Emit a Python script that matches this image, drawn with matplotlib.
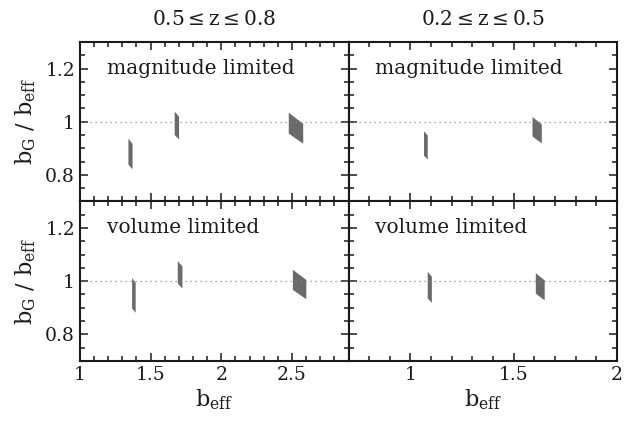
import numpy as np
import matplotlib
matplotlib.use('Agg')
import matplotlib.pyplot as plt
from matplotlib.ticker import MultipleLocator, FormatStrFormatter

plt.rcParams['font.family'] = 'DejaVu Serif'
plt.rcParams['mathtext.fontset'] = 'dejavuserif'

# each region: b_eff range (x) and b_G range; drawn as b_G / b_eff vs b_eff
col_titles = [r'$0.5 \leq \mathrm{z} \leq 0.8$', r'$0.2 \leq \mathrm{z} \leq 0.5$']
row_labels = ['magnitude limited', 'volume limited']

# 0.5 <= z <= 0.8, magnitude limited
mag_hi_beff_lo = [1.340, 1.667, 2.474]
mag_hi_beff_hi = [1.369, 1.698, 2.576]
mag_hi_bg_lo = [1.126, 1.587, 2.368]
mag_hi_bg_hi = [1.257, 1.733, 2.562]
# 0.5 <= z <= 0.8, volume limited
vol_hi_beff_lo = [1.366, 1.689, 2.503]
vol_hi_beff_hi = [1.391, 1.722, 2.598]
vol_hi_bg_lo = [1.228, 1.677, 2.426]
vol_hi_bg_hi = [1.385, 1.820, 2.615]
# 0.2 <= z <= 0.5, magnitude limited
mag_lo_beff_lo = [1.063, 1.588]
mag_lo_beff_hi = [1.081, 1.633]
mag_lo_bg_lo = [0.929, 1.503]
mag_lo_bg_hi = [1.027, 1.619]
# 0.2 <= z <= 0.5, volume limited
vol_lo_beff_lo = [1.081, 1.604]
vol_lo_beff_hi = [1.101, 1.647]
vol_lo_bg_lo = [1.013, 1.531]
vol_lo_bg_hi = [1.121, 1.655]

panels = [
    [(mag_hi_beff_lo, mag_hi_beff_hi, mag_hi_bg_lo, mag_hi_bg_hi),
     (mag_lo_beff_lo, mag_lo_beff_hi, mag_lo_bg_lo, mag_lo_bg_hi)],
    [(vol_hi_beff_lo, vol_hi_beff_hi, vol_hi_bg_lo, vol_hi_bg_hi),
     (vol_lo_beff_lo, vol_lo_beff_hi, vol_lo_bg_lo, vol_lo_bg_hi)],
]
xlims = [(1.0, 2.9), (0.7, 2.0)]

fig, axes = plt.subplots(2, 2, figsize=(6.24, 4.24), dpi=100)
fig.subplots_adjust(left=0.128, right=0.989, bottom=0.149, top=0.901,
                    wspace=0, hspace=0)

for r in range(2):
    for c in range(2):
        ax = axes[r][c]
        x0s, x1s, g0s, g1s = panels[r][c]
        for x0, x1, g0, g1 in zip(x0s, x1s, g0s, g1s):
            xx = np.linspace(x0, x1, 30)
            ax.fill_between(xx, g0 / xx, g1 / xx, color='#6a6a6a', lw=0)
        ax.axhline(1.0, color='#888888', ls=(0, (1, 3)), lw=0.9)
        ax.set_xlim(*xlims[c])
        ax.set_ylim(0.7, 1.3)
        ax.xaxis.set_major_locator(MultipleLocator(0.5))
        ax.xaxis.set_minor_locator(MultipleLocator(0.1))
        ax.yaxis.set_major_locator(MultipleLocator(0.2))
        ax.yaxis.set_minor_locator(MultipleLocator(0.05))
        ax.xaxis.set_major_formatter(FormatStrFormatter('%g'))
        ax.yaxis.set_major_formatter(FormatStrFormatter('%g'))
        ax.tick_params(which='both', direction='in', top=True, right=True,
                       labelsize=13.5, width=1.1, color='#1a1a1a',
                       labelcolor='#1a1a1a')
        ax.tick_params(which='major', length=6)
        ax.tick_params(which='minor', length=3.5)
        for sp in ax.spines.values():
            sp.set_linewidth(1.5)
            sp.set_color('#1a1a1a')
        ax.text(0.10, 0.835, row_labels[r], transform=ax.transAxes,
                fontsize=14.5, va='center', ha='left', color='#1a1a1a')
        if r == 0:
            ax.tick_params(labelbottom=False)
            ax.set_title(col_titles[c], fontsize=14.5, pad=12, color='#1a1a1a')
        else:
            ax.set_xlabel(r'$\mathrm{b_{eff}}$', fontsize=16, labelpad=3,
                          color='#1a1a1a')
        if c == 1:
            ax.tick_params(labelleft=False)
        else:
            ax.set_ylabel(r'$\mathrm{b_G\ /\ b_{eff}}$', fontsize=16,
                          labelpad=5, color='#1a1a1a')

plt.savefig('out.png', dpi=100)
